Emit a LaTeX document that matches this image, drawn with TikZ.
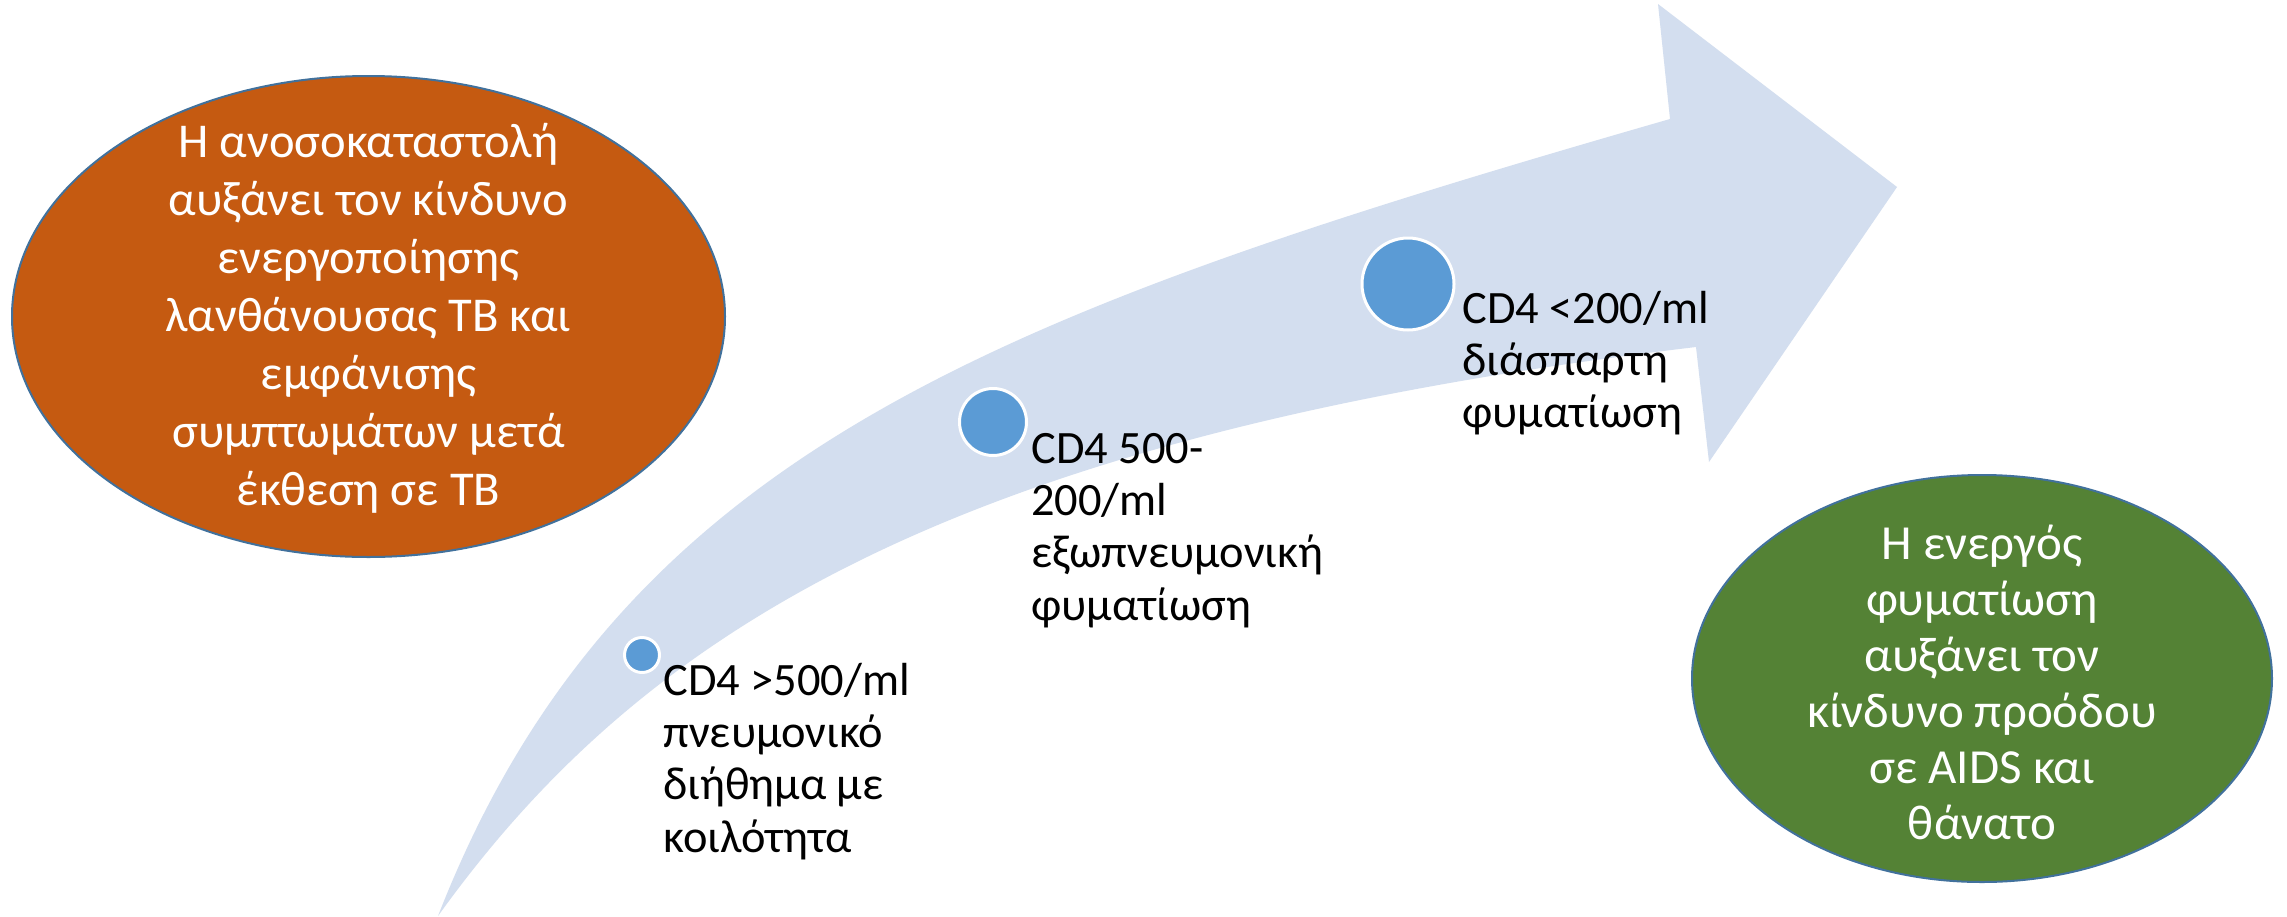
\documentclass[tikz,border=0pt]{standalone}
\usepackage{fontspec}
\setmainfont{Carlito}
\usetikzlibrary{shapes.geometric}
\definecolor{arrowblue}{HTML}{D3DEEF}
\definecolor{dotblue}{HTML}{5B9BD5}
\definecolor{orangefill}{HTML}{C55A11}
\definecolor{greenfill}{HTML}{548235}
\definecolor{rimblue}{HTML}{41719C}
\begin{document}
\begin{tikzpicture}[x=0.5pt,y=-0.5pt,
  bigoval/.style={ellipse, draw=rimblue, line width=1pt, inner sep=0pt},
  ovaltext/.style={text=white, align=center, inner sep=0pt},
  dot/.style={circle, fill=dotblue, draw=white, line width=1.5pt, inner sep=0pt},
  stage/.style={anchor=base west, align=left, text width=190pt, inner sep=0pt,
    font=\fontsize{23.2pt}{26.2pt}\selectfont,
    execute at begin node={\spaceskip=0pt\xspaceskip=0pt\relax}}]
\fill[white] (0,0) rectangle (2287,916);
\useasboundingbox (0,0) rectangle (2287,916);
% curved arrow
\fill[arrowblue] (438,916) .. controls (620,450) and (1000,312) .. (1670,119)
  -- (1658,4) -- (1897,187) -- (1709,462) -- (1696,347)
  .. controls (951,436) and (642,632) .. (438,916) -- cycle;
% ellipses
\node[bigoval, fill=orangefill, minimum width=356.5pt, minimum height=240.5pt] (risk) at (368.5,316.5) {};
\node[ovaltext, font=\fontsize{24.3pt}{29pt}\selectfont] (risktext) at ([yshift=-1pt]risk.center) {Η ανοσοκαταστολή\\αυξάνει τον κίνδυνο\\ενεργοποίησης\\λανθάνουσας TB και\\εμφάνισης\\συμπτωμάτων μετά\\έκθεση σε TB};
\node[bigoval, fill=greenfill, minimum width=290pt, minimum height=203.5pt] (active) at (1982,678.5) {};
\node[ovaltext, font=\fontsize{24.5pt}{28pt}\selectfont] (activetext) at ([yshift=-2pt]active.center) {Η ενεργός\\φυματίωση\\αυξάνει τον\\κίνδυνο προόδου\\σε AIDS και\\θάνατο};
% stage dots
\node[dot, minimum size=17.5pt] (c1) at (642,655) {};
\node[dot, minimum size=33.5pt] (c2) at (993,422) {};
\node[dot, minimum size=46pt] (c3) at (1408,284) {};
% stage labels
\node[stage] (t1) at (663,695) {CD4 >500/ml\\πνευμονικό\\διήθημα με\\κοιλότητα};
\node[stage] (t2) at (1031,463) {CD4 500-\\200/ml\\εξωπνευμονική\\φυματίωση};
\node[stage] (t3) at (1462,323) {CD4 <200/ml\\διάσπαρτη\\φυματίωση};
\end{tikzpicture}
\end{document}
